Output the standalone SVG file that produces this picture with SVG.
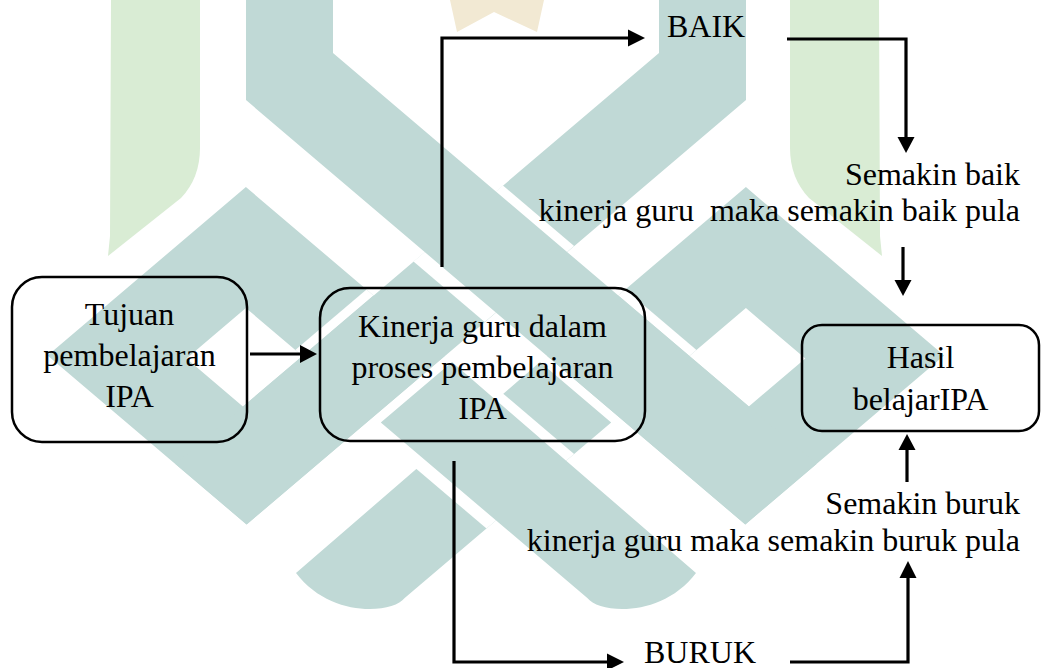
<svg xmlns="http://www.w3.org/2000/svg" width="1041" height="668" viewBox="0 0 1041 668">
  <style>
    .t { font-family: "Liberation Serif", "Times New Roman", serif; font-size: 32px; fill: #000; }
    .c { text-anchor: middle; }
    .r { text-anchor: end; }
    .box { fill: none; stroke: #000; stroke-width: 2.5; }
    .ln { fill: none; stroke: #000; stroke-width: 3.2; stroke-linejoin: miter; }
    .hd { fill: #000; }
    .teal { fill: #c0d9d6; }
    .gap { fill: #ffffff; }
    .grn { fill: #d9ecd4; }
    .tan { fill: #f2e9d3; }
  </style>
  <rect x="0" y="0" width="1041" height="668" fill="#ffffff"/>

  <g id="watermark">
    <path class="grn" d="M111,0 H200 V148 Q200,178 181,198 L108,256 Q109,246 110,236 Z"/>
    <path class="grn" d="M879,0 H790 V148 Q790,178 809,198 L882,256 Q881,246 880,236 Z"/>
    <polygon class="tan" points="450,0 544,0 537,32 494,12 457,32"/>
    <path class="teal" fill-rule="evenodd" d="M245.9,187 L444.7,356 L246.5,524.5 L47.6,355.5 Z M245.9,308 L302.4,356 L242.9,406.5 L186.5,358.5 Z"/>
    <path class="teal" fill-rule="evenodd" d="M745.9,187 L944.1,355.5 L745.3,524.5 L547.1,356 Z M745.9,308 L805.3,358.5 L748.8,406.5 L689.4,356 Z"/>
    <polygon class="gap" points="625.3,289.5 696.5,350 689.4,356 618.2,295.5"/>
    <polygon class="gap" points="366.5,289.5 373.5,295.5 302.4,356 295.3,350"/>
    <polygon class="teal" points="746,-2 659,-2 659,53 175.5,464 246.7,524.5 746,100.1"/>
    <path class="teal" d="M540,362 L611.2,422.5 L404.7,598 C392,614 330,618 296,573 Z"/>
    <polygon class="gap" points="502.9,393.5 574.1,454 486.5,528.5 415.3,468"/>
    <path class="teal" d="M452,362 L380.8,422.5 L587.3,598 C600,614 662,618 696,573 Z"/>
    <polygon class="gap" points="502.9,185.5 574.1,246 484.7,322 413.5,261.5"/>
    <polygon class="teal" points="246,-2 333,-2 333,53 816.5,464 745.3,524.5 246,100.1"/>
  </g>

  <g id="connectors">
    <line class="ln" x1="250" y1="354" x2="302" y2="354"/>
    <polygon class="hd" points="300,345 317,354 300,363"/>
    <polyline class="ln" points="442,267 442,38 630,38"/>
    <polygon class="hd" points="628,29.5 645,38 628,46.5"/>
    <polyline class="ln" points="787,39 906,39 906,139"/>
    <polygon class="hd" points="897.5,137 906,153 914.5,137"/>
    <line class="ln" x1="903" y1="247" x2="903" y2="282"/>
    <polygon class="hd" points="894.5,280 903,296 911.5,280"/>
    <line class="ln" x1="907" y1="482" x2="907" y2="448"/>
    <polygon class="hd" points="898.5,450 907,434 915.5,450"/>
    <polyline class="ln" points="454,461 454,662 609,662"/>
    <polygon class="hd" points="607,653.5 624,662 607,670.5"/>
    <polyline class="ln" points="790,662 908,662 908,576"/>
    <polygon class="hd" points="899.5,578 908,561 916.5,578"/>
  </g>

  <g id="node-tujuan">
    <rect class="box" x="12" y="277" width="235" height="165" rx="30" ry="30"/>
    <text class="t c" x="129.5" y="325">Tujuan</text>
    <text class="t c" x="129.5" y="366">pembelajaran</text>
    <text class="t c" x="129.5" y="407">IPA</text>
  </g>

  <g id="node-kinerja">
    <rect class="box" x="320" y="288" width="325" height="153" rx="30" ry="30"/>
    <text class="t c" x="482.5" y="337">Kinerja guru dalam</text>
    <text class="t c" x="482.5" y="378">proses pembelajaran</text>
    <text class="t c" x="482.5" y="419">IPA</text>
  </g>

  <g id="node-hasil">
    <rect class="box" x="802" y="325" width="237" height="106" rx="20" ry="20"/>
    <text class="t c" x="920.5" y="368">Hasil</text>
    <text class="t c" x="920.5" y="410">belajarIPA</text>
  </g>

  <g id="node-baik">
    <text class="t" x="667" y="37">BAIK</text>
  </g>

  <g id="node-buruk">
    <text class="t" x="644" y="663">BURUK</text>
  </g>

  <g id="label-baik">
    <text class="t r" x="1020" y="185">Semakin baik</text>
    <text class="t r" x="1020" y="221">kinerja guru &#160;maka semakin baik pula</text>
  </g>

  <g id="label-buruk">
    <text class="t r" x="1020" y="514">Semakin buruk</text>
    <text class="t r" x="1020" y="551">kinerja guru maka semakin buruk pula</text>
  </g>
</svg>
